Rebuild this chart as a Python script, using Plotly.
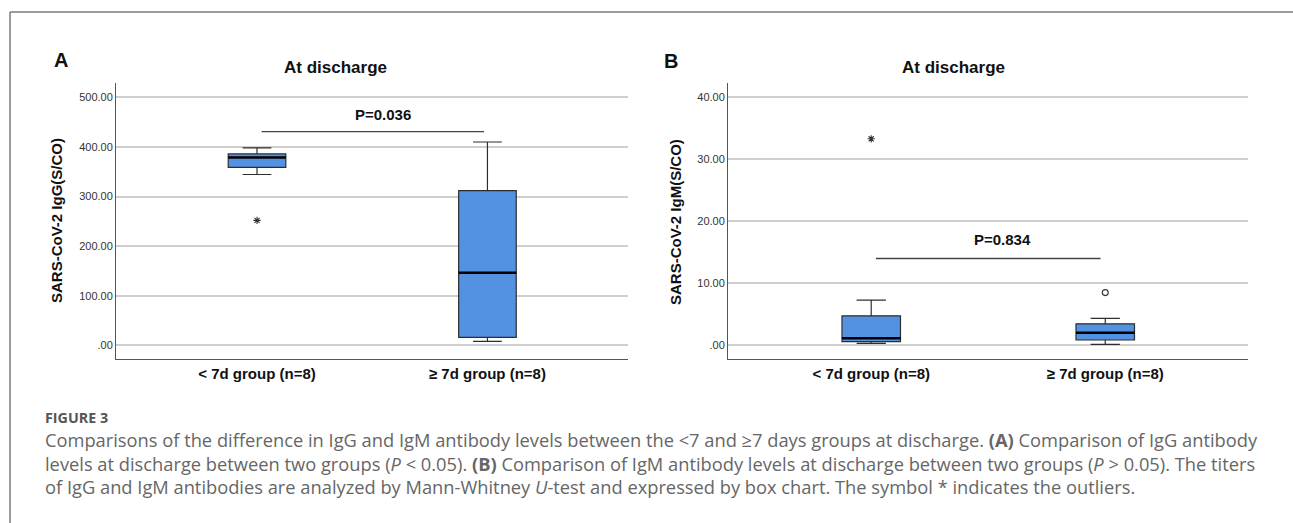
import plotly.graph_objects as go

W, H = 1293, 523

# ---------------- data ----------------
categories = ["< 7d group (n=8)", "\u2265 7d group (n=8)"]
cat_pos = [0, 1]

# Panel A: IgG
igg_lowerfence = [344.5, 8.0]
igg_q1 = [359.0, 16.0]
igg_median = [379.0, 146.5]
igg_q3 = [386.0, 312.0]
igg_upperfence = [398.0, 410.0]
igg_outlier_x = [0]
igg_outlier_y = [252.0]
igg_outlier_symbol = ["asterisk-open"]
igg_ticks = [0, 100, 200, 300, 400, 500]
igg_ticktext = [".00", "100.00", "200.00", "300.00", "400.00", "500.00"]
igg_p_text = "P=0.036"
igg_sig_y = 431.0
igg_p_y = 466.0

# Panel B: IgM
igm_lowerfence = [0.3, 0.16]
igm_q1 = [0.58, 0.85]
igm_median = [1.12, 2.02]
igm_q3 = [4.75, 3.47]
igm_upperfence = [7.3, 4.35]
igm_outlier_x = [0, 1]
igm_outlier_y = [33.3, 8.5]
igm_outlier_symbol = ["asterisk-open", "circle-open"]
igm_ticks = [0, 10, 20, 30, 40]
igm_ticktext = [".00", "10.00", "20.00", "30.00", "40.00"]
igm_p_text = "P=0.834"
igm_sig_y = 14.0
igm_p_y = 17.1

caption_head = "FIGURE 3"
caption_lines = [
    "Comparisons of the difference in IgG and IgM antibody levels between the &lt;7 and \u22657 days groups at discharge. <b>(A)</b> Comparison of IgG antibody",
    "levels at discharge between two groups (<i>P</i> &lt; 0.05). <b>(B)</b> Comparison of IgM antibody levels at discharge between two groups (<i>P</i> &gt; 0.05). The titers",
    "of IgG and IgM antibodies are analyzed by Mann-Whitney <i>U</i>-test and expressed by box chart. The symbol * indicates the outliers.",
]

# ---------------- styling ----------------
BOX_FILL = "#5391e3"
BOX_LINE = "#2e2e2e"
GRID = "#cfcfcf"
AXIS = "#555555"
FONT = "Liberation Sans"
BOX_W = 0.25


def px(x):
    return x / W


def py(y):
    return 1 - y / H


fig = go.Figure()

panels = [
    dict(xa="x", ya="y", lf=igg_lowerfence, q1=igg_q1, med=igg_median, q3=igg_q3,
         uf=igg_upperfence, ox=igg_outlier_x, oy=igg_outlier_y, osym=igg_outlier_symbol),
    dict(xa="x2", ya="y2", lf=igm_lowerfence, q1=igm_q1, med=igm_median, q3=igm_q3,
         uf=igm_upperfence, ox=igm_outlier_x, oy=igm_outlier_y, osym=igm_outlier_symbol),
]

shapes = []
for p in panels:
    fig.add_trace(go.Box(
        x=cat_pos, q1=p["q1"], median=p["med"], q3=p["q3"],
        lowerfence=p["lf"], upperfence=p["uf"],
        width=BOX_W, whiskerwidth=0.5, boxpoints=False,
        fillcolor=BOX_FILL, line=dict(color=BOX_LINE, width=1.2),
        xaxis=p["xa"], yaxis=p["ya"], showlegend=False, hoverinfo="skip",
    ))
    # thick median lines
    for xi, m in zip(cat_pos, p["med"]):
        shapes.append(dict(type="line", xref=p["xa"], yref=p["ya"],
                           x0=xi - BOX_W / 2, x1=xi + BOX_W / 2, y0=m, y1=m,
                           line=dict(color="#000000", width=2.5)))
    fig.add_trace(go.Scatter(
        x=p["ox"], y=p["oy"], mode="markers",
        marker=dict(symbol=p["osym"], size=6, color="#333333",
                    line=dict(color="#333333", width=1.1)),
        xaxis=p["xa"], yaxis=p["ya"], showlegend=False, hoverinfo="skip",
    ))

# significance bars
shapes.append(dict(type="line", xref="x", yref="y", x0=0.02, x1=0.985,
                   y0=igg_sig_y, y1=igg_sig_y, line=dict(color="#444444", width=1.3)))
shapes.append(dict(type="line", xref="x2", yref="y2", x0=0.02, x1=0.98,
                   y0=igm_sig_y, y1=igm_sig_y, line=dict(color="#444444", width=1.3)))

# figure border (top + left)
shapes.append(dict(type="line", xref="paper", yref="paper", x0=px(10), x1=1.01,
                   y0=py(12), y1=py(12), line=dict(color="#7a7a7a", width=1.5)))
shapes.append(dict(type="line", xref="paper", yref="paper", x0=px(10), x1=px(10),
                   y0=py(12), y1=-0.01, line=dict(color="#7a7a7a", width=1.5)))

annotations = []
# P values
annotations.append(dict(xref="x", yref="y", x=0.547, y=igg_p_y, text=igg_p_text,
                        showarrow=False,
                        font=dict(family=FONT, size=15, color="#111", weight="bold"),
                        xanchor="center", yanchor="middle"))
annotations.append(dict(xref="x2", yref="y2", x=0.56, y=igm_p_y, text=igm_p_text,
                        showarrow=False,
                        font=dict(family=FONT, size=15, color="#111", weight="bold"),
                        xanchor="center", yanchor="middle"))

# titles, panel letters, y-axis titles
for txt, x, y, size, angle in [
    ("At discharge", 335, 68, 17, 0),
    ("At discharge", 953, 68, 17, 0),
    ("A", 61, 60, 20, 0),
    ("B", 671, 61, 20, 0),
    ("SARS-CoV-2 IgG(S/CO)", 56, 221, 15, -90),
    ("SARS-CoV-2 IgM(S/CO)", 675, 222, 15, -90),
]:
    annotations.append(dict(xref="paper", yref="paper", x=px(x), y=py(y), text=txt,
                            textangle=angle, showarrow=False,
                            font=dict(family=FONT, size=size, color="#111", weight="bold"),
                            xanchor="center", yanchor="middle"))

# caption (one text block, 4 lines)
CAP_FONT = "Open Sans"
CAP_SIZE = 18.3
head = ('<span style="font-size:14.3px;font-weight:bold;fill:#555555">'
        + caption_head + "</span>")
caption_text = "<br>".join([head] + caption_lines)
n_lines = 1 + len(caption_lines)
line_h = CAP_SIZE * 1.3
cap_center = 418 + line_h * (n_lines - 1) / 2
annotations.append(dict(xref="paper", yref="paper", x=px(43), y=py(cap_center),
                        text=caption_text, showarrow=False, xanchor="left",
                        yanchor="middle", align="left",
                        font=dict(family=CAP_FONT, size=CAP_SIZE, color="#666666")))

xaxis_common = dict(range=[-0.612, 1.61], tickvals=cat_pos, ticktext=categories,
                    showgrid=False, zeroline=False, showline=True, linecolor=AXIS,
                    linewidth=1, ticks="outside", ticklen=1, tickcolor="rgba(0,0,0,0)",
                    tickfont=dict(family=FONT, size=15, color="#111", weight="bold"),
                    fixedrange=True)
yaxis_common = dict(showgrid=True, gridcolor=GRID, gridwidth=1.5, zeroline=False,
                    showline=True, linecolor=AXIS, linewidth=1, ticks="",
                    tickfont=dict(family=FONT, size=11, color="#333333"), fixedrange=True)

ydom = [py(358.5), py(83)]
fig.update_layout(
    width=W, height=H, margin=dict(l=0, r=0, t=0, b=0),
    paper_bgcolor="white", plot_bgcolor="white", showlegend=False,
    xaxis=dict(domain=[px(116), px(628)], anchor="y", **xaxis_common),
    yaxis=dict(domain=ydom, anchor="x", range=[-26.6, 529], tickvals=igg_ticks,
               ticktext=igg_ticktext, **yaxis_common),
    xaxis2=dict(domain=[px(728), px(1248)], anchor="y2", **xaxis_common),
    yaxis2=dict(domain=ydom, anchor="x2", range=[-2.13, 42.3], tickvals=igm_ticks,
                ticktext=igm_ticktext, **yaxis_common),
    shapes=shapes, annotations=annotations,
)

fig.write_html("out.html", config={"displayModeBar": False},
               post_script="document.body.style.margin='0';document.body.style.overflow='hidden';")
